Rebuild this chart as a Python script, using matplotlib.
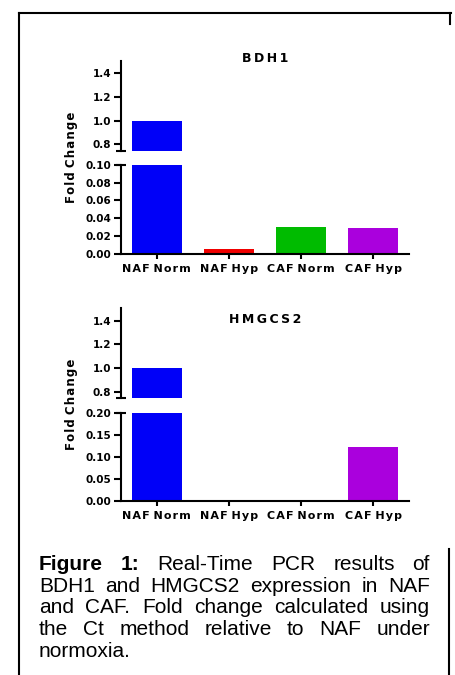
import matplotlib
matplotlib.use('Agg')
import matplotlib.pyplot as plt
from matplotlib.lines import Line2D
import numpy as np

categories = ['NAF Norm', 'NAF Hyp', 'CAF Norm', 'CAF Hyp']
bar_colors = ['#0000f8', '#f00000', '#00bb00', '#aa00dd']
bdh1_fold = [1.0, 0.006, 0.030, 0.029]
hmgcs2_fold = [1.0, 0.0, 0.0, 0.122]
upper_ticks = [0.8, 1.0, 1.2, 1.4]
bdh1_low_ticks = [0.00, 0.02, 0.04, 0.06, 0.08, 0.10]
hmgcs2_low_ticks = [0.00, 0.05, 0.10, 0.15, 0.20]

caption_lines = [
    [('Figure', 'bold'), ('1:', 'bold'), ('Real-Time', 'normal'), ('PCR', 'normal'),
     ('results', 'normal'), ('of', 'normal')],
    [(w, 'normal') for w in 'BDH1 and HMGCS2 expression in NAF'.split()],
    [(w, 'normal') for w in 'and CAF. Fold change calculated using'.split()],
    [(w, 'normal') for w in 'the Ct method relative to NAF under'.split()],
    [(w, 'normal') for w in 'normoxia.'.split()],
]

plt.rcParams['font.family'] = 'DejaVu Sans'
plt.rcParams['font.weight'] = 'bold'

W, H = 456, 675
fig = plt.figure(figsize=(W / 100, H / 100), dpi=100)


def px_axes(x0, y0, x1, y1):
    # axes placed by pixel box (top-left origin)
    return fig.add_axes([x0 / W, 1 - y1 / H, (x1 - x0) / W, (y1 - y0) / H])


HAIR = '\u200a'
THIN = '\u2009'


def spaced(s, sep=HAIR, word_sep=' '):
    # Prism-style letter spacing
    return word_sep.join(sep.join(w) for w in s.split(' '))


def fig_line(x0, y0, x1, y1, lw=1.5):
    fig.add_artist(Line2D([x0 / W, x1 / W], [1 - y0 / H, 1 - y1 / H],
                          transform=fig.transFigure, color='k', lw=lw))


def broken_chart(values, top, brk_top, brk_bot, bottom, low_max, low_ticks, low_fmt,
                 title, title_y):
    x = np.arange(len(categories))
    ax_hi = px_axes(120.7, top, 409.3, brk_top)
    ax_lo = px_axes(120.7, brk_bot, 409.3, bottom)
    for ax in (ax_hi, ax_lo):
        ax.bar(x, values, width=0.7, color=bar_colors, edgecolor='none')
        ax.spines['top'].set_visible(False)
        ax.spines['right'].set_visible(False)
        ax.spines['left'].set_linewidth(1.5)
        ax.spines['bottom'].set_linewidth(1.5)
        ax.tick_params(axis='y', length=5, width=1.5, pad=2, labelsize=7.5)
    ax_hi.spines['bottom'].set_visible(False)
    ax_hi.tick_params(axis='x', bottom=False, labelbottom=False)
    ax_hi.plot([0], [0], marker='_', ms=7, mew=1.5, color='k',
               transform=ax_hi.transAxes, clip_on=False)
    ax_lo.plot([0], [1], marker='_', ms=7, mew=1.5, color='k',
               transform=ax_lo.transAxes, clip_on=False)

    ax_hi.set_ylim(0.745, 1.505)
    ax_hi.set_yticks(upper_ticks)
    ax_hi.set_yticklabels(['%.1f' % v for v in upper_ticks])
    ax_lo.set_ylim(0, low_max)
    ax_lo.set_yticks(low_ticks)
    ax_lo.set_yticklabels([low_fmt % v for v in low_ticks])
    for ax in (ax_hi, ax_lo):
        ax.set_xlim(-0.5, 3.5)
    ax_lo.set_xticks(x)
    ax_lo.set_xticklabels([spaced(c) for c in categories])
    ax_lo.tick_params(axis='x', length=3.5, width=1.5, pad=4, labelsize=8)

    fig.text(71.7 / W, 1 - (top + bottom) / 2 / H, spaced('Fold Change'), rotation=90,
             ha='center', va='center', fontsize=8.5, fontweight='bold')
    fig.text(265 / W, 1 - title_y / H, spaced(title, THIN), ha='center', va='baseline',
             fontsize=9, fontweight='bold')


broken_chart(bdh1_fold, 61, 150.7, 164.7, 254, 0.10, bdh1_low_ticks, '%.2f', 'BDH1', 62)
broken_chart(hmgcs2_fold, 308.3, 398.3, 412.7, 501, 0.20, hmgcs2_low_ticks, '%.2f',
             'HMGCS2', 323.3)

# frame lines around the panel
fig_line(18.5, 13.3, 450.7, 13.3)
fig_line(19.3, 13.3, 19.3, 675)
fig_line(450, 13.3, 450, 24)
fig_line(449.3, 549, 449.3, 675)

# justified caption
renderer = fig.canvas.get_renderer()
baselines = [570, 591.7, 613.3, 635, 656.7]
left_px, right_px = 39, 430
for i, line in enumerate(caption_lines):
    y = 1 - baselines[i] / H
    texts = [fig.text(0, y, w, fontsize=15, fontweight=wt, family='Liberation Sans',
                      va='baseline', ha='left') for w, wt in line]
    widths = [t.get_window_extent(renderer).width for t in texts]
    if len(texts) > 1 and i < len(caption_lines) - 1:
        gap = (right_px - left_px - sum(widths)) / (len(texts) - 1)
    else:
        gap = 6
    xp = left_px
    for t, w in zip(texts, widths):
        t.set_x(xp / W)
        xp += w + gap

fig.savefig('out.png', dpi=100)
